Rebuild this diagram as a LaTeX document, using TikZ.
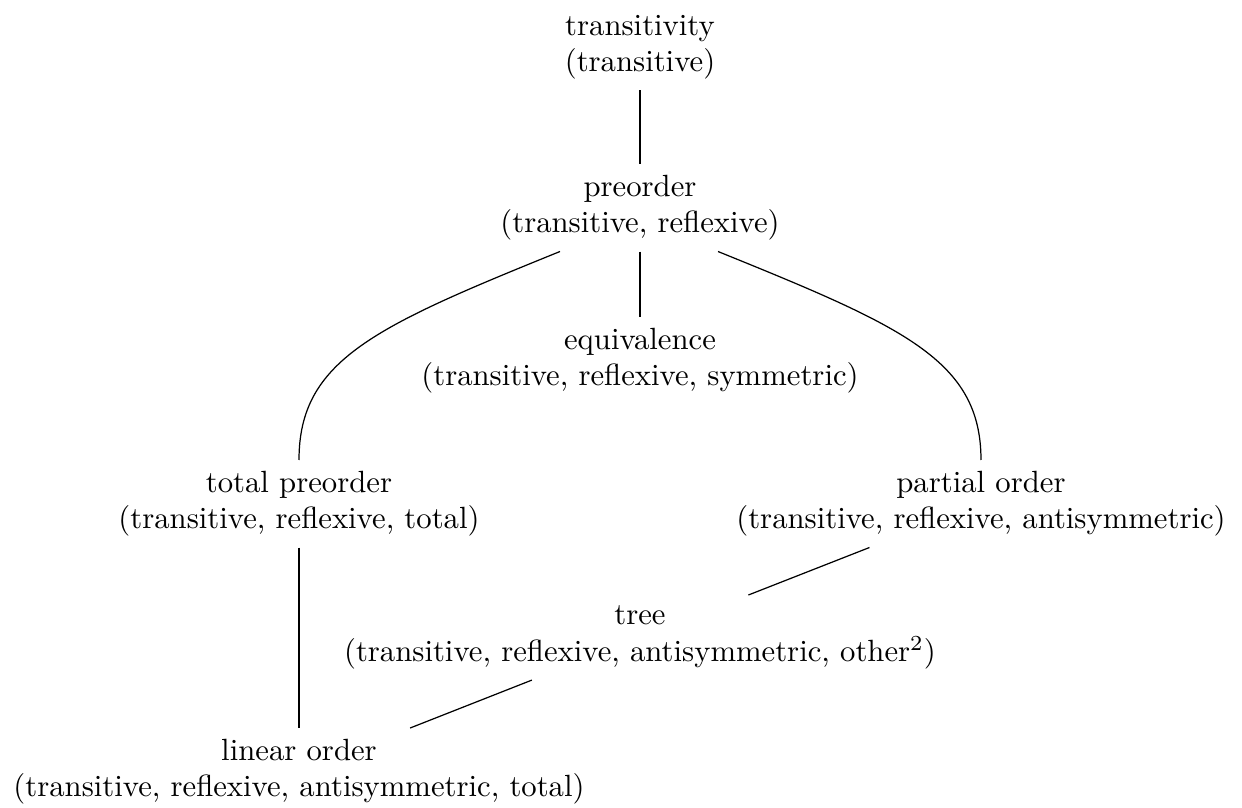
\documentclass[tikz,border=0pt]{standalone}
\usetikzlibrary{calc}
\begin{document}
\begin{tikzpicture}[
  x=0.3257pt, y=-0.3257pt,
  lbl/.style={align=center, inner sep=3.33pt, anchor=north},
  link/.style={line width=0.4pt}
]
\useasboundingbox (0,0) rectangle (1242,808);

% two-line labels: name of the relation, then its properties
\node[lbl] (trans) at (640,4)   {transitivity\\(transitive)};
\node[lbl] (pre)   at (640,164) {preorder\\(transitive, reflexive)};
\node[lbl] (equiv) at (640,317) {equivalence\\(transitive, reflexive, symmetric)};
\node[lbl] (tpre)  at (299,460) {total preorder\\(transitive, reflexive, total)};
\node[lbl] (po)    at (981,460) {partial order\\(transitive, reflexive, antisymmetric)};
\node[lbl] (tree)  at (640,595) {tree\\(transitive, reflexive, antisymmetric, other$^2$)};
\node[lbl] (lin)   at (299,728) {linear order\\(transitive, reflexive, antisymmetric, total)};

% connectors
\draw[link] (trans) -- (pre);
\draw[link] (pre) -- (equiv);
\draw[link] ($(pre.south)+(-80,0)$) .. controls +(-185,75) and +(0,-100) .. (tpre.north);
\draw[link] ($(pre.south)+(78,0)$) .. controls +(185,75) and +(0,-100) .. (po.north);
\draw[link] (tpre) -- (lin);
\draw[link] (po) -- (tree);
\draw[link] (tree) -- (lin);
\end{tikzpicture}
\end{document}
